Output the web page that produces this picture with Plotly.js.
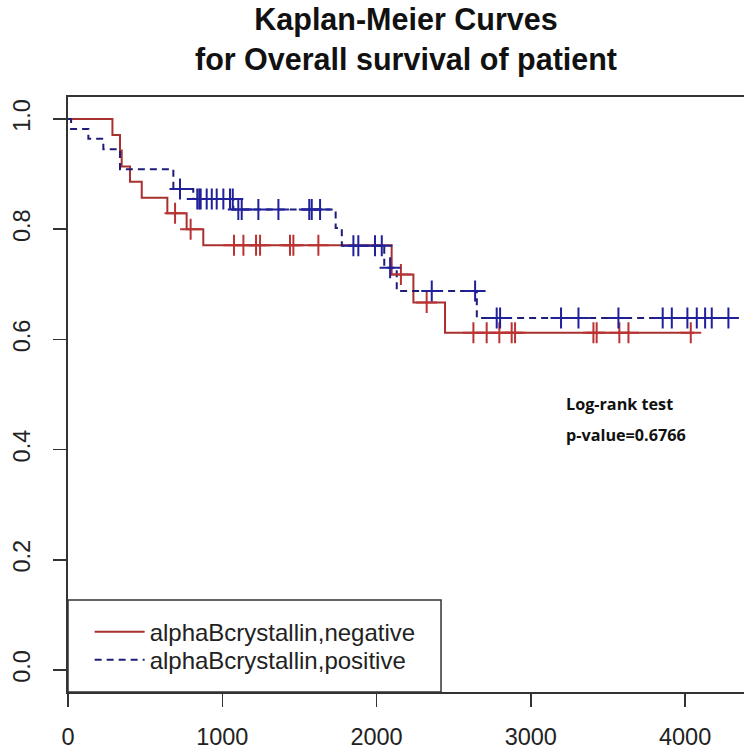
<!DOCTYPE html>
<html>
<head>
<meta charset="utf-8">
<script src="https://cdn.plot.ly/plotly-3.0.1.min.js"></script>
<style>html,body{margin:0;padding:0;background:#fff;}#chart{width:744px;height:752px;}</style>
</head>
<body>
<div id="chart"></div>
<script>
// Step curve for alphaBcrystallin negative (time in days, survival probability)
const negTimes = [0, 288, 337, 348, 402, 478, 644, 769, 877, 2098, 2239, 2444, 4060];
const negSurv  = [1.0, 0.971, 0.943, 0.914, 0.886, 0.857, 0.829, 0.800, 0.771, 0.718, 0.667, 0.612, 0.612];
// Censored observations, negative group
const negCensTimes = [694, 795, 1076, 1137, 1219, 1245, 1439, 1461, 1623, 2158, 2325, 2628, 2714, 2796, 2876, 2898, 3406, 3427, 3574, 3633, 4037];
const negCensSurv  = [0.829, 0.800, 0.771, 0.771, 0.771, 0.771, 0.771, 0.771, 0.771, 0.718, 0.667, 0.612, 0.612, 0.612, 0.612, 0.612, 0.612, 0.612, 0.612, 0.612, 0.612];

// Step curve for alphaBcrystallin positive
const posTimes = [0, 20, 132, 229, 337, 683, 812, 1072, 1735, 1775, 2050, 2131, 2650, 4324];
const posSurv  = [1.0, 0.982, 0.964, 0.945, 0.909, 0.873, 0.855, 0.836, 0.802, 0.770, 0.730, 0.688, 0.639, 0.639];
// Censored observations, positive group
const posCensTimes = [726, 838, 851, 860, 899, 932, 964, 1007, 1050, 1068, 1104, 1126, 1234, 1364, 1564, 1580, 1634, 1850, 1882, 1990, 2034, 2088, 2358, 2639, 2779, 2801, 3196, 3309, 3568, 3855, 3914, 4015, 4076, 4130, 4173, 4281];
const posCensSurv  = [0.873, 0.855, 0.855, 0.855, 0.855, 0.855, 0.855, 0.855, 0.855, 0.855, 0.836, 0.836, 0.836, 0.836, 0.836, 0.836, 0.836, 0.770, 0.770, 0.770, 0.770, 0.730, 0.688, 0.688, 0.639, 0.639, 0.639, 0.639, 0.639, 0.639, 0.639, 0.639, 0.639, 0.639, 0.639, 0.639];

const groupNames = ['alphaBcrystallin,negative', 'alphaBcrystallin,positive'];
const xTicks = [0, 1000, 2000, 3000, 4000];
const yTicks = [0.0, 0.2, 0.4, 0.6, 0.8, 1.0];
const yTickText = ['0.0', '0.2', '0.4', '0.6', '0.8', '1.0'];
const titleLines = ['Kaplan-Meier Curves', 'for Overall survival of patient'];
const testLines = ['Log-rank test', 'p-value=0.6766'];

const redLine = '#a8302f';
const redMark = '#bb3232';
const blueLine = '#1e1e78';
const blueMark = '#20209a';

const traces = [
  {x: negTimes, y: negSurv, type: 'scatter', mode: 'lines', name: groupNames[0], legend: 'legend',
   line: {shape: 'hv', color: redLine, width: 2}},
  {x: posTimes, y: posSurv, type: 'scatter', mode: 'lines', name: groupNames[1], legend: 'legend2',
   line: {shape: 'hv', color: blueLine, width: 2, dash: '7px,5px'}},
  {x: negCensTimes, y: negCensSurv, type: 'scatter', mode: 'markers', showlegend: false,
   marker: {symbol: 'cross-thin', size: 15, color: redMark, line: {width: 2, color: redMark}}},
  {x: posCensTimes, y: posCensSurv, type: 'scatter', mode: 'markers', showlegend: false,
   marker: {symbol: 'cross-thin', size: 15, color: blueMark, line: {width: 2, color: blueMark}}}
];

const tickFont = {family: 'Liberation Sans, Arial, sans-serif', size: 23.5, color: '#222'};
const legendFont = {family: 'Liberation Sans, Arial, sans-serif', size: 24, color: '#222'};
const noteFont = {family: 'Open Sans, sans-serif', size: 16.2, weight: 'bold', color: '#111'};

const layout = {
  width: 744, height: 752,
  margin: {l: 68, r: 0, t: 97, b: 60, pad: 0},
  paper_bgcolor: '#fff', plot_bgcolor: '#fff',
  title: {
    text: titleLines.join('<br>'),
    font: {family: 'Liberation Sans, Arial, sans-serif', size: 30.5, weight: 'bold', color: '#111'},
    xref: 'paper', x: 0.5, xanchor: 'center',
    yref: 'container', y: 0.96, yanchor: 'top'
  },
  xaxis: {
    range: [0, 4382], tickvals: xTicks, ticktext: xTicks.map(String),
    showgrid: false, zeroline: false,
    showline: true, mirror: true, linecolor: '#333', linewidth: 2,
    ticks: 'outside', ticklen: 13, tickwidth: 1.5, tickcolor: '#333',
    tickfont: tickFont, ticklabelstandoff: 10
  },
  yaxis: {
    range: [-0.04, 1.04], tickvals: yTicks, ticktext: yTickText,
    showgrid: false, zeroline: false,
    showline: true, linecolor: '#333', linewidth: 2,
    ticks: 'outside', ticklen: 13, tickwidth: 1.5, tickcolor: '#333',
    tickfont: tickFont, tickangle: -90, ticklabelstandoff: 14
  },
  shapes: [
    {type: 'rect', xref: 'x', yref: 'y', x0: 0, x1: 2418, y0: -0.04, y1: 0.127,
     line: {color: '#333', width: 1.5}, fillcolor: 'rgba(0,0,0,0)', layer: 'above'}
  ],
  legend: {
    x: 0.032, xanchor: 'left', y: 0.1385, yanchor: 'top',
    bgcolor: 'rgba(0,0,0,0)', borderwidth: 0, font: legendFont, itemwidth: 50
  },
  legend2: {
    x: 0.032, xanchor: 'left', y: 0.0914, yanchor: 'top',
    bgcolor: 'rgba(0,0,0,0)', borderwidth: 0, font: legendFont, itemwidth: 50
  },
  annotations: [
    {text: testLines[0], xref: 'x', yref: 'y', x: 3215, y: 0.482, xanchor: 'left', yanchor: 'middle',
     showarrow: false, font: noteFont},
    {text: testLines[1], xref: 'x', yref: 'y', x: 3215, y: 0.427, xanchor: 'left', yanchor: 'middle',
     showarrow: false, font: noteFont}
  ]
};

Plotly.newPlot('chart', traces, layout, {displayModeBar: false, staticPlot: true});
</script>
</body>
</html>
